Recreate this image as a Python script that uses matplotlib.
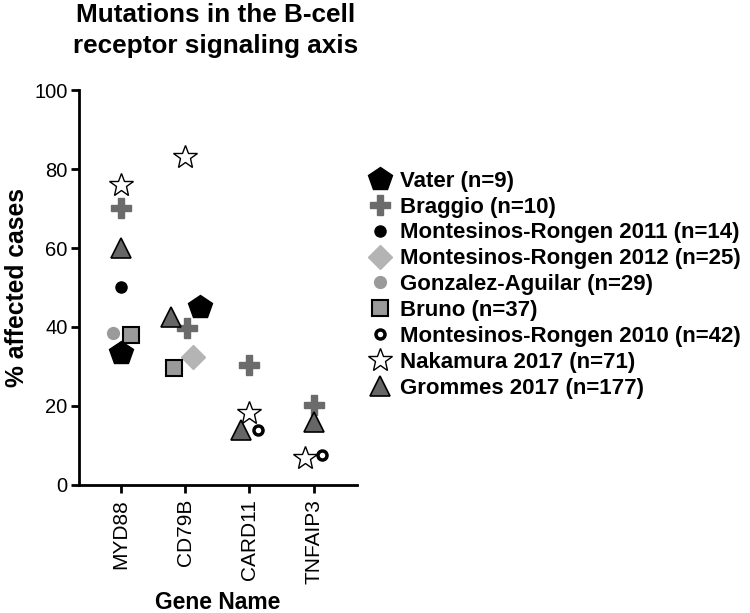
import numpy as np
import matplotlib
matplotlib.use("Agg")
import matplotlib.pyplot as plt

plt.rcParams["font.family"] = ["Liberation Sans", "DejaVu Sans"]

genes = ["MYD88", "CD79B", "CARD11", "TNFAIP3"]
nan = np.nan

# % affected cases per gene, and small horizontal offsets (category units)
vater = [33.3, 45.0, nan, nan]
vater_dx = [0.0, 0.24, 0.0, 0.0]
braggio = [70.2, 39.7, 30.3, 20.3]
braggio_dx = [0.0, 0.03, 0.0, 0.0]
mr2011 = [50.0, nan, nan, nan]
mr2011_dx = [0.0, 0.0, 0.0, 0.0]
mr2012 = [nan, 32.3, nan, nan]
mr2012_dx = [0.0, 0.12, 0.0, 0.0]
gonzalez = [38.6, nan, nan, nan]
gonzalez_dx = [-0.12, 0.0, 0.0, 0.0]
bruno = [38.0, 29.5, nan, nan]
bruno_dx = [0.16, -0.17, 0.0, 0.0]
mr2010 = [nan, nan, 14.0, 7.5]
mr2010_dx = [0.0, 0.0, 0.13, 0.12]
nakamura = [76.0, 83.0, 18.2, 6.7]
nakamura_dx = [0.0, 0.0, 0.0, -0.14]
grommes = [60.0, 42.5, 14.0, 16.0]
grommes_dx = [0.0, -0.22, -0.13, 0.0]

series = [
    ("Vater (n=9)", vater, vater_dx,
     dict(marker="p", ms=18, mfc="black", mec="black", mew=1)),
    ("Braggio (n=10)", braggio, braggio_dx,
     dict(marker="P", ms=15, mfc="#6b6b6b", mec="#6b6b6b", mew=1)),
    ("Montesinos-Rongen 2011 (n=14)", mr2011, mr2011_dx,
     dict(marker="o", ms=8, mfc="black", mec="black", mew=1)),
    ("Montesinos-Rongen 2012 (n=25)", mr2012, mr2012_dx,
     dict(marker="D", ms=12.5, mfc="#b4b4b4", mec="#b4b4b4", mew=1)),
    ("Gonzalez-Aguilar (n=29)", gonzalez, gonzalez_dx,
     dict(marker="o", ms=8.5, mfc="#9a9a9a", mec="#9a9a9a", mew=1)),
    ("Bruno (n=37)", bruno, bruno_dx,
     dict(marker="s", ms=11.5, mfc="#9a9a9a", mec="black", mew=1.5)),
    ("Montesinos-Rongen 2010 (n=42)", mr2010, mr2010_dx,
     dict(marker="o", ms=6.5, mfc="white", mec="black", mew=2.5)),
    ("Nakamura 2017 (n=71)", nakamura, nakamura_dx,
     dict(marker="*", ms=18, mfc="white", mec="black", mew=1)),
    ("Grommes 2017 (n=177)", grommes, grommes_dx,
     dict(marker="^", ms=15, mfc="#666666", mec="black", mew=1.2)),
]

fig = plt.figure(figsize=(7.5, 6.13), dpi=100)
ax = fig.add_axes([0.105, 0.209, 0.371, 0.644])

x = np.arange(len(genes))
for label, vals, dx, style in series:
    ax.plot(x + np.array(dx), vals, linestyle="none", label=label,
            zorder=3, **style)

ax.set_xlim(-0.65, 3.67)
ax.set_ylim(0, 100)
ax.set_yticks([0, 20, 40, 60, 80, 100])
ax.set_xticks(x)
ax.set_xticklabels(genes, rotation=90, fontsize=15)
ax.tick_params(axis="y", labelsize=14.5, width=2, length=6, pad=2)
ax.tick_params(axis="x", width=2, length=6, pad=4)
for s in ["top", "right"]:
    ax.spines[s].set_visible(False)
for s in ["left", "bottom"]:
    ax.spines[s].set_linewidth(2)

ax.set_ylabel("% affected cases", fontsize=17.7, fontweight="bold", labelpad=4)
ax.set_xlabel("Gene Name", fontsize=16.5, fontweight="bold", labelpad=5)
fig.text(0.287, 0.995, "Mutations in the B-cell\nreceptor signaling axis",
         ha="center", va="top", fontsize=18.8, fontweight="bold",
         linespacing=1.35)

fig.legend(loc="upper left", bbox_to_anchor=(0.48, 0.736), frameon=False,
           prop=dict(size=16, weight="bold"), handlelength=1.0,
           handletextpad=0.4, labelspacing=0.22, borderaxespad=0,
           numpoints=1)

fig.savefig("out.png", dpi=100)
